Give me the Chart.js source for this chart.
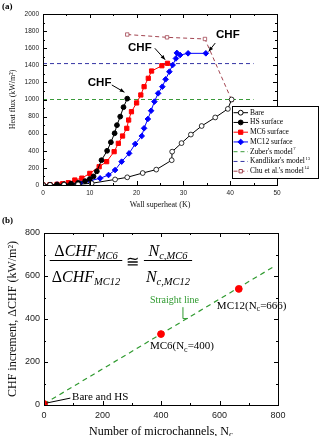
<!DOCTYPE html>
<html>
<head>
<meta charset="utf-8">
<script src="https://cdn.jsdelivr.net/npm/chart.js@4"></script>
<style>
html, body { margin: 0; padding: 0; background: #fff; overflow: hidden; width: 319px; height: 436px; }
#top { position: absolute; left: 0; top: 0; width: 319px; height: 210px; }
#bot { position: absolute; left: 0; top: 210px; width: 319px; height: 232px; }
</style>
</head>
<body>
<div id="top"><canvas id="chartA"></canvas></div>
<div id="bot"><canvas id="chartB"></canvas></div>
<script>
// (a) wall superheat (K) vs heat flux (kW/m2)
const bareX = [0, 1.5, 4.5, 7.5, 10.4, 15.4, 18, 21.3, 24.2, 27.5, 27.6, 29.6, 31.6, 33.9, 36.8, 39.5, 40.3];
const bareY = [0, 2, 4, 8, 20, 65, 90, 140, 180, 290, 390, 490, 590, 690, 790, 890, 1000];
const hsX = [0, 1.5, 3, 4.5, 6, 7.5, 9, 10, 10.8, 11.5, 12.5, 13.7, 14.5, 15.3, 15.8, 16.5, 17.2, 18];
const hsY = [0, 2, 5, 8, 15, 25, 45, 70, 100, 160, 290, 400, 500, 605, 700, 800, 910, 1010];
const mc6X = [0, 1.5, 3, 4.2, 5.4, 6.8, 8.3, 10, 12, 13.6, 15.2, 16.1, 17, 17.9, 18.3, 18.9, 20, 20.9, 21.6, 22.5, 23.2, 25.4, 26.6];
const mc6Y = [0, 3, 8, 15, 27, 58, 80, 136, 214, 273, 390, 487, 573, 663, 760, 857, 960, 1053, 1150, 1248, 1333, 1395, 1423];
const mc12X = [0, 1.5, 3, 4.5, 6, 8, 10, 12.2, 14, 15.4, 16.8, 18.4, 19.7, 21.1, 21.6, 22.4, 23.1, 23.8, 24.6, 25.5, 26.2, 27, 27.7, 28.4, 28.6, 29.3, 31, 34.8];
const mc12Y = [0, 3, 6, 10, 15, 25, 50, 78, 117, 175, 273, 370, 480, 573, 663, 772, 869, 975, 1072, 1150, 1236, 1325, 1403, 1480, 1545, 1520, 1540, 1540];
const zuberX = [0, 45];
const zuberY = [1000, 1000];
const kandX = [0, 45];
const kandY = [1420, 1420];
const chuX = [18, 26.5, 34.6, 40.3];
const chuY = [1760, 1727, 1708, 995];
const labelsA = ['Bare', 'HS surface', 'MC6 surface', 'MC12 surface', "Zuber's model", "Kandlikar's model", "Chu et al.'s model"];
const refsA = ['', '', '', '', '7', '13', '14'];

// (b) number of microchannels vs CHF increment
const nc = [0, 400, 666];
const dChf = [5, 330, 540];
const fitX = [0, 785];
const fitY = [5, 643];

const serif = "'Liberation Serif', 'Times New Roman', serif";
const sans = "'Liberation Sans', Arial, sans-serif";

const pts = (xs, ys) => xs.map((x, i) => ({ x: x, y: ys[i] }));

function marker(ctx, style, x, y, r, fill, stroke) {
    ctx.beginPath();
    if (style === 'circle') {
        ctx.arc(x, y, r, 0, Math.PI * 2);
    } else if (style === 'rect') {
        const s = r * Math.SQRT1_2;
        ctx.rect(x - s, y - s, 2 * s, 2 * s);
    } else {
        ctx.moveTo(x, y - r); ctx.lineTo(x + r, y); ctx.lineTo(x, y + r); ctx.lineTo(x - r, y); ctx.closePath();
    }
    ctx.fillStyle = fill; ctx.fill();
    ctx.lineWidth = 1; ctx.strokeStyle = stroke; ctx.stroke();
}

function arrow(ctx, x1, y1, x2, y2) {
    const a = Math.atan2(y2 - y1, x2 - x1);
    ctx.beginPath();
    ctx.moveTo(x1, y1); ctx.lineTo(x2, y2);
    ctx.stroke();
    ctx.beginPath();
    ctx.moveTo(x2, y2);
    ctx.lineTo(x2 - 5 * Math.cos(a - 0.4), y2 - 5 * Math.sin(a - 0.4));
    ctx.lineTo(x2 - 5 * Math.cos(a + 0.4), y2 - 5 * Math.sin(a + 0.4));
    ctx.closePath();
    ctx.fill();
}

// text with pieces: [text, font, dy]
function runs(ctx, x, y, parts) {
    parts.forEach(p => {
        ctx.font = p[1];
        ctx.fillText(p[0], x, y + (p[2] || 0));
        x += ctx.measureText(p[0]).width;
    });
    return x;
}
function runsWidth(ctx, parts) {
    let w = 0;
    parts.forEach(p => { ctx.font = p[1]; w += ctx.measureText(p[0]).width; });
    return w;
}

// closed box with inward major and minor ticks on every side
const framePlugin = {
    id: 'frame',
    afterDraw(chart) {
        const { ctx, chartArea: a, scales: { x, y } } = chart;
        ctx.save();
        ctx.strokeStyle = '#000';
        ctx.lineWidth = 1;
        ctx.strokeRect(Math.round(a.left) + 0.5, Math.round(a.top) + 0.5, Math.round(a.right - a.left), Math.round(a.bottom - a.top));
        const withMinor = s => {
            const v = s.ticks.map(t => t.value);
            const out = [];
            v.forEach((t, i) => {
                out.push([t, 4]);
                if (i < v.length - 1) out.push([(t + v[i + 1]) / 2, 2]);
            });
            return out;
        };
        ctx.beginPath();
        withMinor(x).forEach(([v, len]) => {
            const px = Math.round(x.getPixelForValue(v)) + 0.5;
            ctx.moveTo(px, a.bottom); ctx.lineTo(px, a.bottom - len);
            ctx.moveTo(px, a.top); ctx.lineTo(px, a.top + len);
        });
        withMinor(y).forEach(([v, len]) => {
            const py = Math.round(y.getPixelForValue(v)) + 0.5;
            ctx.moveTo(a.left, py); ctx.lineTo(a.left + len, py);
            ctx.moveTo(a.right, py); ctx.lineTo(a.right - len, py);
        });
        ctx.stroke();
        ctx.restore();
    }
};

const notesA = {
    id: 'notesA',
    afterDraw(chart) {
        const { ctx, scales: { x, y } } = chart;
        const P = (vx, vy) => [x.getPixelForValue(vx), y.getPixelForValue(vy)];
        ctx.save();
        ctx.fillStyle = '#000';
        ctx.font = "bold 9px " + serif;
        ctx.textBaseline = 'top';
        ctx.fillText('(a)', 2, 2);

        // CHF call-outs
        ctx.font = "bold 11.5px " + sans;
        ctx.textAlign = 'center';
        ctx.textBaseline = 'middle';
        ctx.strokeStyle = '#000';
        ctx.lineWidth = 1;
        [
            [[12.1, 1199], [14.7, 1170], [17.4, 1085]],
            [[20.7, 1608], [23.9, 1599], [26.1, 1465]],
            [[39.5, 1754], [36.8, 1660], [35.4, 1562]]
        ].forEach(([t, a1, a2]) => {
            const p = P(t[0], t[1]);
            ctx.fillText('CHF', p[0], p[1]);
            const q1 = P(a1[0], a1[1]), q2 = P(a2[0], a2[1]);
            arrow(ctx, q1[0], q1[1], q2[0], q2[1]);
        });

        // legend box
        const bx = 232, by = 106, bw = 86, bh = 72;
        ctx.fillStyle = '#fff';
        ctx.fillRect(bx, by, bw, bh);
        ctx.strokeStyle = '#000';
        ctx.strokeRect(bx + 0.5, by + 0.5, bw, bh);
        ctx.textAlign = 'left';
        ctx.textBaseline = 'middle';
        chart.data.datasets.forEach((ds, i) => {
            const ry = 112.7 + i * 9.75;
            ctx.save();
            ctx.strokeStyle = ds.borderColor;
            ctx.lineWidth = 1;
            ctx.setLineDash(ds.borderDash || []);
            ctx.beginPath();
            ctx.moveTo(233.5, ry); ctx.lineTo(248, ry);
            ctx.stroke();
            ctx.restore();
            if (ds.pointRadius > 0) {
                marker(ctx, ds.pointStyle, 240.7, ry, ds.pointRadius, ds.pointBackgroundColor, ds.borderColor);
            }
            ctx.fillStyle = '#000';
            ctx.font = "7.5px " + serif;
            ctx.fillText(labelsA[i], 250, ry);
            if (refsA[i]) {
                const w = ctx.measureText(labelsA[i]).width;
                ctx.font = "4.5px " + serif;
                ctx.fillText(refsA[i], 250 + w + 0.5, ry - 3);
            }
        });
        ctx.restore();
    }
};

const notesB = {
    id: 'notesB',
    afterDraw(chart) {
        const { ctx, chartArea: a, scales: { x, y } } = chart;
        const P = (vx, vy) => [x.getPixelForValue(vx), y.getPixelForValue(vy)];
        ctx.save();
        ctx.fillStyle = '#000';
        ctx.strokeStyle = '#000';
        ctx.lineWidth = 1;
        ctx.font = "bold 9px " + serif;
        ctx.textBaseline = 'top';
        ctx.fillText('(b)', 2, 6);

        ctx.textBaseline = 'alphabetic';
        // ratio formula
        const big = "italic 16px " + serif;
        const up = "16px " + serif;
        const sub = "italic 10.5px " + serif;
        const frac = (cx, top, bottom) => {
            const w1 = runsWidth(ctx, top), w2 = runsWidth(ctx, bottom);
            runs(ctx, cx - w1 / 2, 46, top);
            runs(ctx, cx - w2 / 2, 72, bottom);
            const w = Math.max(w1, w2) + 4;
            ctx.fillRect(cx - w / 2, 50, w, 1);
        };
        frac(86, [['\u0394', up], ['CHF', big], ['MC6', sub, 3]], [['\u0394', up], ['CHF', big], ['MC12', sub, 3]]);
        ctx.font = up;
        ctx.textAlign = 'center';
        ctx.fillText('\u2245', 132, 57);
        ctx.textAlign = 'left';
        frac(168, [['N', big], ['c,MC6', sub, 3]], [['N', big], ['c,MC12', sub, 3]]);

        // point labels
        const lab = "11px " + serif;
        const lsub = "8px " + serif;
        let p = P(96, 35);
        ctx.textBaseline = 'middle';
        runs(ctx, p[0], p[1], [['Bare and HS', lab]]);
        const l1 = P(8, 9), l2 = P(90, 32);
        ctx.beginPath(); ctx.moveTo(l1[0], l1[1]); ctx.lineTo(l2[0], l2[1]); ctx.stroke();
        p = P(362, 272);
        runs(ctx, p[0], p[1], [['MC6(N', lab], ['c', lsub, 3], ['=400)', lab]]);
        p = P(591, 459);
        runs(ctx, p[0], p[1], [['MC12(N', lab], ['c', lsub, 3], ['=666)', lab]]);

        // straight line label
        ctx.fillStyle = '#2f9a2f';
        ctx.strokeStyle = '#2f9a2f';
        ctx.font = "10px " + serif;
        p = P(362, 487);
        ctx.fillText('Straight line', p[0], p[1]);
        const s1 = P(475, 455), s2 = P(475, 402), s3 = P(492, 402);
        ctx.beginPath();
        ctx.moveTo(s1[0], s1[1]); ctx.lineTo(s2[0], s2[1]); ctx.lineTo(s3[0], s3[1]);
        ctx.stroke();

        // x title with subscript
        ctx.fillStyle = '#000';
        const tparts = [['Number of microchannels, N', "12px " + serif], ['c', "9px " + serif, 3]];
        const tw = runsWidth(ctx, tparts);
        runs(ctx, (a.left + a.right) / 2 - tw / 2, 222, tparts);
        ctx.restore();
    }
};

const dashed = (label, xs, ys, color) => ({
    label: label, data: pts(xs, ys), showLine: true,
    borderColor: color, borderWidth: 1, borderDash: [4, 3],
    pointRadius: 0, pointStyle: 'circle', pointBackgroundColor: color
});

const plain = v => String(v);

new Chart(document.getElementById('chartA'), {
    type: 'scatter',
    data: {
        datasets: [
            { label: labelsA[0], data: pts(bareX, bareY), showLine: true, borderColor: '#000', borderWidth: 1,
              pointStyle: 'circle', pointRadius: 2.4, pointBackgroundColor: '#fff', pointBorderColor: '#000', pointBorderWidth: 0.8 },
            { label: labelsA[1], data: pts(hsX, hsY), showLine: true, borderColor: '#000', borderWidth: 1,
              pointStyle: 'circle', pointRadius: 2.4, pointBackgroundColor: '#000', pointBorderColor: '#000' },
            { label: labelsA[2], data: pts(mc6X, mc6Y), showLine: true, borderColor: '#ff0000', borderWidth: 1,
              pointStyle: 'rect', pointRadius: 3, pointBackgroundColor: '#ff0000', pointBorderColor: '#ff0000' },
            { label: labelsA[3], data: pts(mc12X, mc12Y), showLine: true, borderColor: '#0000ff', borderWidth: 1,
              pointStyle: 'rectRot', pointRadius: 2.8, pointBackgroundColor: '#0000ff', pointBorderColor: '#0000ff' },
            dashed(labelsA[4], zuberX, zuberY, '#3a9a3a'),
            dashed(labelsA[5], kandX, kandY, '#3434a4'),
            { label: labelsA[6], data: pts(chuX, chuY), showLine: true, borderColor: '#a24450', borderWidth: 1, borderDash: [4, 3],
              pointStyle: 'rect', pointRadius: 2.4, pointBackgroundColor: '#fff', pointBorderColor: '#a24450', pointBorderWidth: 0.8 }
        ]
    },
    options: {
        responsive: true,
        maintainAspectRatio: false,
        animation: false,
        layout: { padding: { left: 0, right: 42, top: 14, bottom: 0 } },
        plugins: { legend: { display: false }, tooltip: { enabled: false } },
        scales: {
            x: {
                type: 'linear', min: 0, max: 50,
                ticks: { stepSize: 10, font: { family: sans, size: 6.5 }, color: '#222', padding: 4, maxRotation: 0, callback: plain },
                grid: { display: false, drawTicks: false },
                border: { display: false },
                title: { display: true, text: 'Wall superheat (K)', font: { family: serif, size: 8 }, color: '#111', padding: { top: 0, bottom: 0 } },
                afterFit: s => { s.height = 25; }
            },
            y: {
                type: 'linear', min: 0, max: 2000,
                ticks: { stepSize: 200, font: { family: sans, size: 6.5 }, color: '#222', padding: 4, callback: plain },
                grid: { display: false, drawTicks: false },
                border: { display: false },
                title: { display: true, text: 'Heat flux (kW/m\u00b2)', font: { family: serif, size: 8 }, color: '#111', padding: { top: 8, bottom: 0 } },
                afterFit: s => { s.width = 43; }
            }
        }
    },
    plugins: [framePlugin, notesA]
});

new Chart(document.getElementById('chartB'), {
    type: 'scatter',
    data: {
        datasets: [
            { label: 'measured', data: pts(nc, dChf), pointStyle: 'circle', pointRadius: 3.4,
              pointBackgroundColor: '#ff0000', pointBorderColor: '#ff0000', borderColor: '#ff0000' },
            { label: 'Straight line', data: pts(fitX, fitY), showLine: true, borderColor: '#2f9a2f', borderWidth: 1.2,
              borderDash: [5, 4], pointRadius: 0 }
        ]
    },
    options: {
        responsive: true,
        maintainAspectRatio: false,
        animation: false,
        layout: { padding: { left: 0, right: 41, top: 23, bottom: 0 } },
        plugins: { legend: { display: false }, tooltip: { enabled: false } },
        scales: {
            x: {
                type: 'linear', min: 0, max: 800,
                ticks: { stepSize: 200, font: { family: sans, size: 9 }, color: '#222', padding: 5, maxRotation: 0, callback: plain },
                grid: { display: false, drawTicks: false },
                border: { display: false },
                title: { display: false },
                afterFit: s => { s.height = 37; }
            },
            y: {
                type: 'linear', min: 0, max: 800,
                ticks: { stepSize: 200, font: { family: sans, size: 9 }, color: '#222', padding: 4, callback: plain },
                grid: { display: false, drawTicks: false },
                border: { display: false },
                title: { display: true, text: 'CHF increment, \u0394CHF (kW/m\u00b2)', font: { family: serif, size: 12 }, color: '#111', padding: { top: 6, bottom: 0 } },
                afterFit: s => { s.width = 44; }
            }
        }
    },
    plugins: [framePlugin, notesB]
});
</script>
</body>
</html>
